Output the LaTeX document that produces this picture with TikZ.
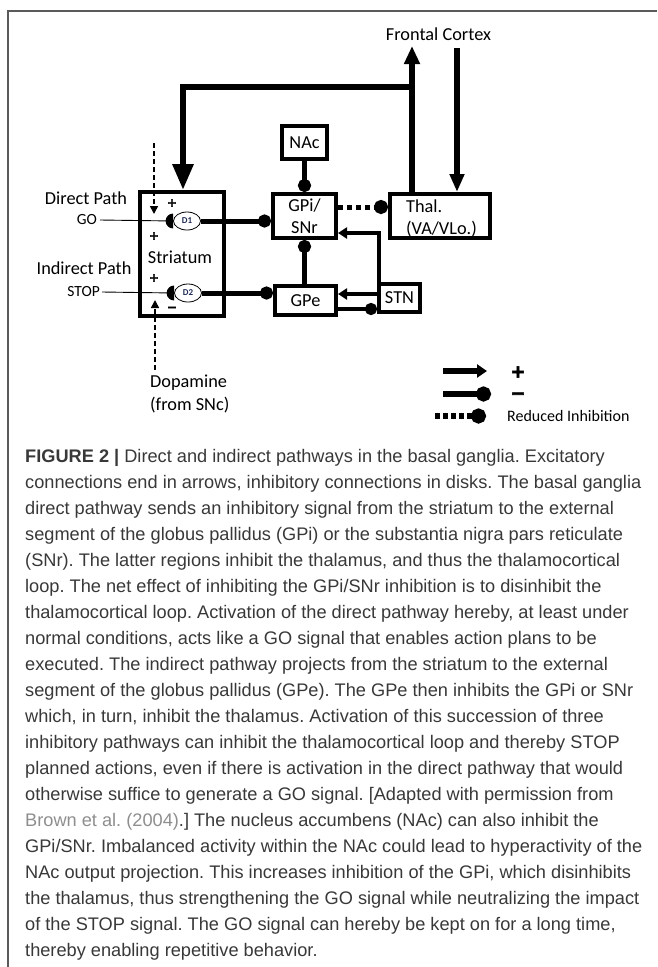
\documentclass[tikz,border=0pt]{standalone}
\usepackage{fontspec}
\setmainfont{Liberation Sans}
\newfontfamily\calfont{Carlito}
\newfontfamily\signfont[FakeBold=3]{DejaVu Sans}
\usetikzlibrary{arrows.meta,shapes.geometric}
\definecolor{captext}{HTML}{383838}
\definecolor{capgray}{HTML}{8E8E8E}
\definecolor{navy}{HTML}{1F2A55}
\definecolor{framegray}{HTML}{5A5A5A}
\frenchspacing
\begin{document}
\begin{tikzpicture}[x=1pt,y=-1pt,
  box/.style={draw, line width=4pt, inner sep=0pt, align=center, font=\calfont\fontsize{18.3}{22}\selectfont},
  lbl/.style={inner sep=0pt, font=\calfont\fontsize{18.3}{22}\selectfont},
  small/.style={inner sep=0pt, font=\calfont\fontsize{15.5}{18}\selectfont},
  sign/.style={inner sep=0pt, font=\signfont\bfseries\fontsize{12}{12}\selectfont},
  bigsign/.style={inner sep=0pt, font=\signfont\bfseries\fontsize{18}{18}\selectfont},
  dnode/.style={draw, ellipse, line width=0.8pt, minimum width=27pt, minimum height=18pt, inner sep=0pt, fill=white, font=\calfont\bfseries\fontsize{9}{9}\selectfont, text=navy},
  big/.style={line width=6pt},
  inh/.style={line width=5pt, -{Circle[length=13pt]}},
  smallexc/.style={line width=4.5pt, -{Triangle[length=9pt,width=11pt]}},
  dotline/.style={dash pattern=on 5pt off 4pt},
  da/.style={line width=1.6pt, dash pattern=on 5pt off 3pt, -{Triangle[length=8pt,width=8pt]}},
  thinline/.style={line width=0.9pt}
]
\useasboundingbox (0,0) rectangle (657,967);
\draw[framegray, line width=1.5pt] (657,11) -- (8,11) -- (8,967);

% boxes
\node[box, minimum width=84pt, minimum height=124pt] (str) at (182,254) {};
\node[lbl] (strt) at (180,257) {Striatum};
\node[box, minimum width=45pt, minimum height=33pt] (nac) at (304.5,142.5) {NAc};
\node[box, minimum width=63pt, minimum height=44pt] (gpi) at (304.5,216) {GPi/\\SNr};
\node[box, minimum width=100pt, minimum height=44pt] (thal) at (440,216) {};
\node[lbl, anchor=west, align=left] (thaltxt) at (406,218) {Thal.\\(VA/VLo.)};
\node[box, minimum width=61pt, minimum height=29pt] (gpe) at (305.5,300.5) {GPe};
\node[box, minimum width=41pt, minimum height=28pt] (stn) at (399.5,298) {STN};

% labels
\node[lbl] (fc) at (438.5,34) {Frontal Cortex};
\node[lbl] (dp) at (86,198) {Direct Path};
\node[lbl] (ip) at (84,268) {Indirect Path};
\node[small, anchor=east] (go) at (97,220) {GO};
\node[small, anchor=east] (stop) at (100,292) {STOP};
\node[lbl, anchor=base west] (dop) at (150,387) {Dopamine};
\node[lbl, anchor=base west] (snc) at (150,410) {(from SNc)};

% cortex loop
\coordinate (fcup) at (412,46);
\coordinate (fbR) at (412,87);
\coordinate (fbL) at (183,87);
\coordinate (fcdn) at (457,48);
\draw[big, -{Triangle[length=18pt,width=15pt]}] (fcup |- thal.north) -- (fcup);
\draw[big, line join=miter, -{Triangle[length=26pt,width=20pt]}] (fbR) -- (fbL) -- (fbL |- str.north);
\draw[big, -{Triangle[length=18pt,width=14pt]}] (fcdn) -- (fcdn |- thal.north);

% D1 / D2
\node[dnode] (d1) at (187,221) {D1};
\node[dnode] (d2) at (188,293) {D2};
\draw[thinline] ([xshift=3pt]go.east) -- (d1.west);
\draw[thinline] ([xshift=2pt]stop.east) -- (d2.west);
\fill ([yshift=7.5pt]d1.west) arc[start angle=90, end angle=270, radius=7.5pt] -- cycle;
\fill ([yshift=7.5pt]d2.west) arc[start angle=90, end angle=270, radius=7.5pt] -- cycle;

% inhibitory connections
\draw[inh] (d1.east) -- (d1.east -| gpi.west);
\draw[inh] (d2.east) -- (d2.east -| gpe.west);
\draw[inh] (nac.south) -- (gpi.north);
\draw[inh] (gpi.south |- gpe.north) -- (gpi.south);
\draw[inh, dotline, -{Circle[length=14pt]}] ([yshift=9pt]gpi.east) -- ([yshift=9pt]gpi.east -| thal.west);

% STN
\coordinate (sbend) at (379,233);
\draw[smallexc, line join=miter] (sbend |- stn.north) -- (sbend) -- (sbend -| gpi.east);
\draw[smallexc] ([yshift=4pt]stn.west) -- ([yshift=4pt]stn.west -| gpe.east);
\draw[line width=4.5pt, -{Circle[length=12pt]}] ([yshift=-8.5pt]gpe.east) -- ([yshift=-8.5pt]gpe.east -| stn.west);

% dopamine dashed arrows
\coordinate (datop) at (154,143);
\coordinate (datip) at (154,214);
\draw[da] (datop) -- (datip);
\coordinate (dabot) at (155,370);
\coordinate (dbtip) at (155,300);
\draw[da] (dabot) -- (dbtip);

% signs
\node[sign] (p1) at (172,203) {+};
\node[sign] (p2) at (154,236) {+};
\node[sign] (p3) at (154,278) {+};
\node[sign] (m1) at (172,309) {−};

% legend
\coordinate (l1s) at (443,371); \coordinate (l1e) at (487,371);
\draw[big, -{Triangle[length=10pt,width=13pt]}] (l1s) -- (l1e);
\coordinate (l2s) at (443,394); \coordinate (l2e) at (491,394);
\draw[big, -{Circle[length=15pt]}] (l2s) -- (l2e);
\coordinate (l3s) at (435,416); \coordinate (l3e) at (486,416);
\draw[big, dash pattern=on 5pt off 3pt, -{Circle[length=15pt]}] (l3s) -- (l3e);
\node[bigsign] (lp) at (518,372) {+};
\node[bigsign] (lm) at (518,396) {−};
\node[anchor=west, inner sep=0pt, font=\calfont\fontsize{16}{18}\selectfont] (ri) at (507,416) {Reduced Inhibition};

% caption
\node[anchor=north west, inner sep=0pt, align=left, text=captext, font=\fontsize{18.2}{26}\selectfont] (cap) at (25,449) {%
\textbf{FIGURE 2 |} Direct and indirect pathways in the basal ganglia. Excitatory\\
connections end in arrows, inhibitory connections in disks. The basal ganglia\\
direct pathway sends an inhibitory signal from the striatum to the external\\
segment of the globus pallidus (GPi) or the substantia nigra pars reticulate\\
(SNr). The latter regions inhibit the thalamus, and thus the thalamocortical\\
loop. The net effect of inhibiting the GPi/SNr inhibition is to disinhibit the\\
thalamocortical loop. Activation of the direct pathway hereby, at least under\\
normal conditions, acts like a GO signal that enables action plans to be\\
executed. The indirect pathway projects from the striatum to the external\\
segment of the globus pallidus (GPe). The GPe then inhibits the GPi or SNr\\
which, in turn, inhibit the thalamus. Activation of this succession of three\\
inhibitory pathways can inhibit the thalamocortical loop and thereby STOP\\
planned actions, even if there is activation in the direct pathway that would\\
otherwise suffice to generate a GO signal. [Adapted with permission from\\
{\color{capgray}Brown et al. (2004)}.] The nucleus accumbens (NAc) can also inhibit the\\
GPi/SNr. Imbalanced activity within the NAc could lead to hyperactivity of the\\
NAc output projection. This increases inhibition of the GPi, which disinhibits\\
the thalamus, thus strengthening the GO signal while neutralizing the impact\\
of the STOP signal. The GO signal can hereby be kept on for a long time,\\
thereby enabling repetitive behavior.};
\end{tikzpicture}
\end{document}
